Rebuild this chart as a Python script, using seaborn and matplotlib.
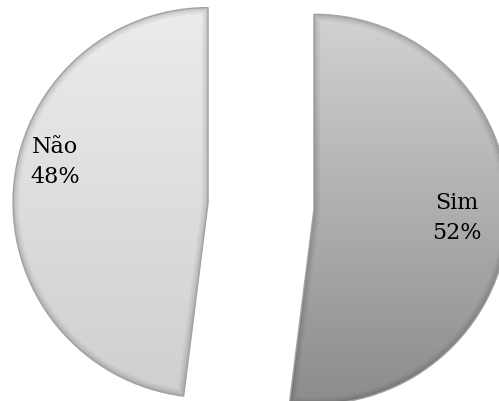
import numpy as np
import matplotlib
matplotlib.use("Agg")
import matplotlib.pyplot as plt
from matplotlib.patches import Wedge
from matplotlib.colors import LinearSegmentedColormap
import seaborn as sns

# Survey answers and their shares (%)
categories = ["Sim", "Não"]
shares = [52, 48]

# Vertical gradient of each slice (top -> bottom)
top_colors = ["#d2d2d2", "#ececec"]
bottom_colors = ["#8c8c8c", "#cfcfcf"]

sns.set_theme(style="white")
plt.rcParams["font.family"] = ["DejaVu Serif"]

W, H = 499, 401
S = 195.0  # pixels per unit radius
fig = plt.figure(figsize=(W / 100, H / 100), dpi=100)
ax = fig.add_axes([0, 0, 1, 1])

wedges, _ = ax.pie(
    shares,
    explode=[0.272, 0.272],
    startangle=90,
    counterclock=False,
    radius=1.0,
    center=(261 / S, 195 / S),
    wedgeprops=dict(linewidth=1.0, edgecolor="#a2a2a2", facecolor="none"),
)

ax.set_xlim(0, W / S)
ax.set_ylim(0, H / S)
ax.set_aspect("equal")
ax.axis("off")

grad = np.linspace(0, 1, 256).reshape(-1, 1)
for w, c0, c1 in zip(wedges, top_colors, bottom_colors):
    cx, cy = w.center
    r = w.r
    cmap = LinearSegmentedColormap.from_list("slice", [c0, c1])
    im = ax.imshow(grad, cmap=cmap, aspect="auto", interpolation="bilinear",
                   extent=(cx - r, cx + r, cy - r, cy + r), origin="upper",
                   zorder=0.5)
    im.set_clip_path(w)
    # soft inner bevel along the slice outline
    for lw, a in [(9, 0.04), (6, 0.05), (3, 0.07)]:
        edge = Wedge((cx, cy), r, w.theta1, w.theta2,
                     facecolor="none", edgecolor="black",
                     linewidth=lw, alpha=a, zorder=0.8)
        ax.add_patch(edge)
        edge.set_clip_path(w)

# data labels: category and percentage
label_px = [(457, 183), (55, 239)]
for (x, y), cat, val in zip(label_px, categories, shares):
    ax.text(x / S, y / S, f"{cat}\n{val}%", ha="center", va="center",
            fontsize=16, color="black", linespacing=1.45, zorder=3)

fig.savefig("out.png", dpi=100, facecolor="white")
